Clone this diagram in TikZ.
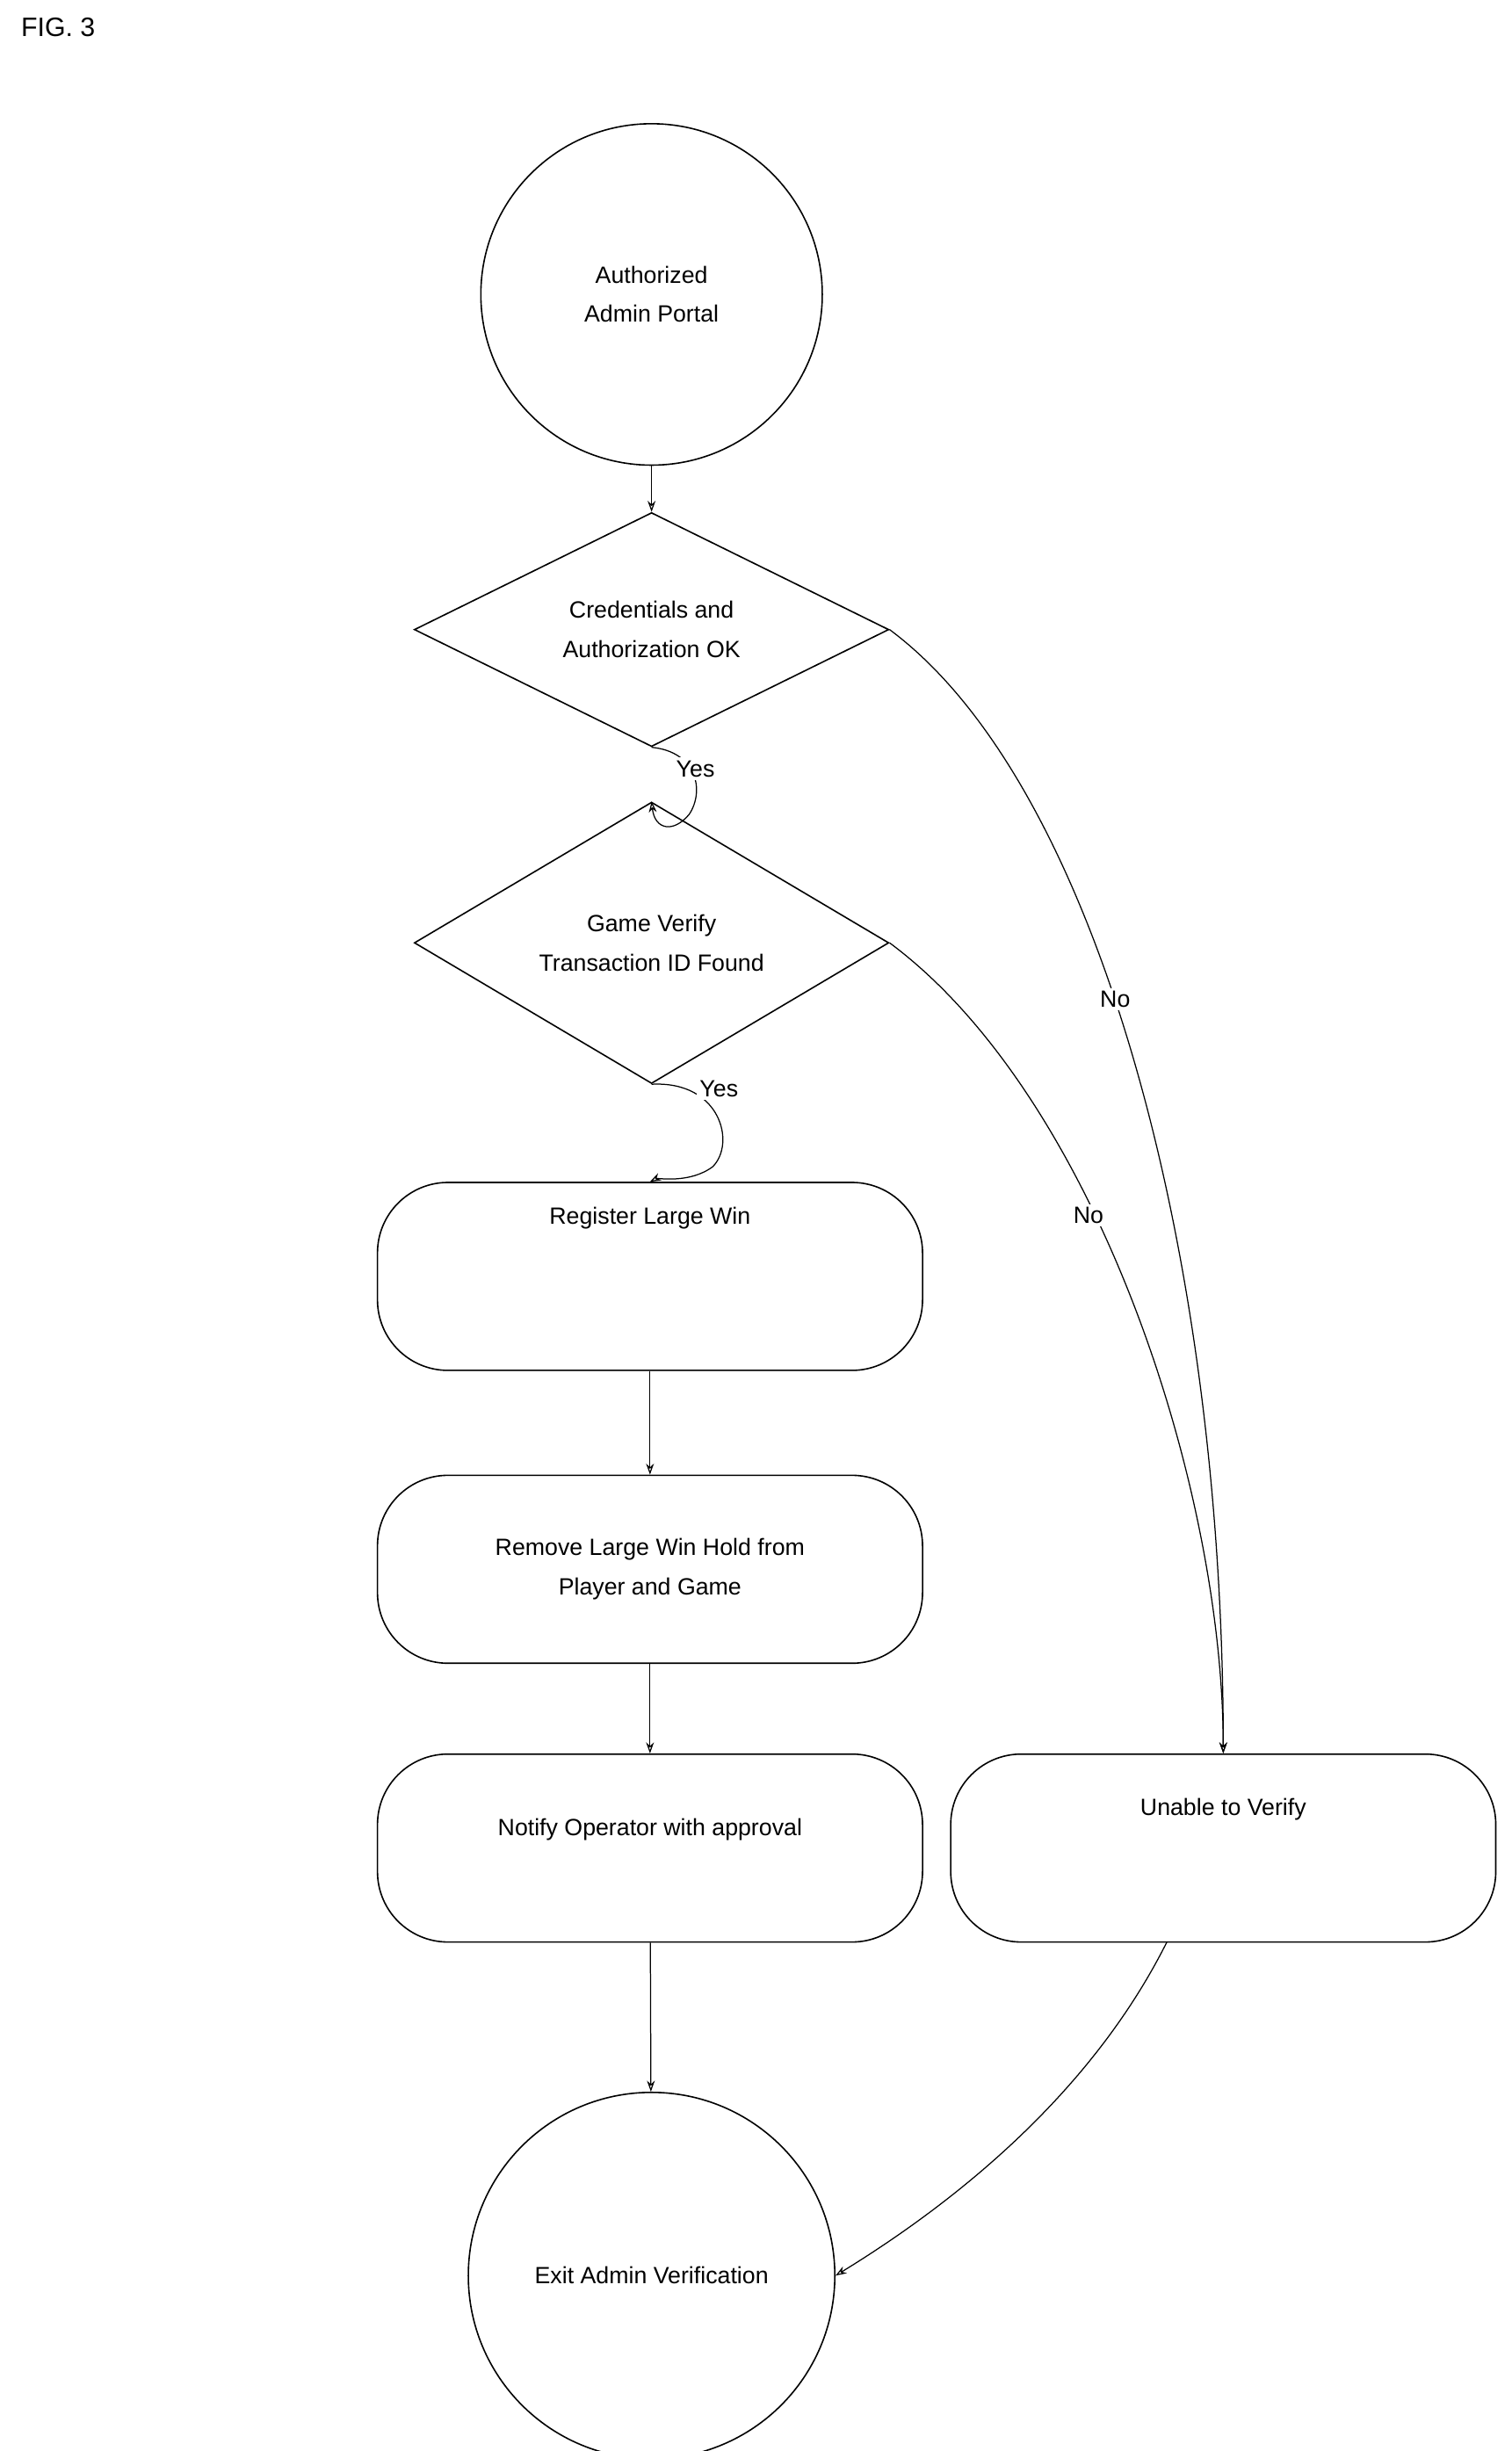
\documentclass[tikz,border=0pt]{standalone}
\usepackage{fontspec}
\setmainfont{Liberation Sans}
\usetikzlibrary{shapes.geometric,arrows.meta}
\begin{document}
\begin{tikzpicture}[x=1pt,y=-1pt,
  every node/.style={font=\fontsize{15}{25}\selectfont,align=center},
  circ/.style={draw,circle,line width=0.9pt,inner sep=0pt},
  dia/.style={draw,diamond,line width=0.9pt,inner sep=0pt,minimum width=303pt,minimum height=128pt},
  box/.style={draw,rounded corners=45pt,line width=0.9pt,minimum width=348pt,minimum height=120pt},
  arr/.style={line width=0.7pt,-{Stealth[length=7pt,width=5pt,open]}},
  lbl/.style={fill=white,inner sep=2pt}]
\useasboundingbox (0,0) rectangle (965,1565);
\node[anchor=north west,font=\fontsize{17}{20}\selectfont\rmfamily] (fig) at (10,8) {FIG. 3};
\node[circ,minimum size=218pt] (start) at (416,188) {Authorized\\Admin Portal};
\node[dia] (d1) at (416,402) {Credentials and\\Authorization OK};
\node[dia] (d2) at (416,602) {Game Verify\\Transaction ID Found};
\node[box] (r1) at (415,815) {};
\node (r1t) at (415,778) {Register Large Win};
\node[box] (r2) at (415,1002) {Remove Large Win Hold from\\Player and Game};
\node[box] (r3) at (415,1180) {};
\node (r3t) at (415,1168) {Notify Operator with approval};
\node[box] (r4) at (781,1180) {};
\node (r4t) at (781,1155) {Unable to Verify};
\node[circ,minimum size=234pt] (end) at (416,1453) {Exit Admin Verification};
\draw[arr] (start) -- (d1);
\draw[arr] (d1.south) .. controls (445,480) and (450,505) .. (440,520) .. controls (430,532) and (418,530) .. (d2.north);
\node[lbl] (y1) at (444,491) {Yes};
\draw[arr] (d2.south) .. controls (460,690) and (470,730) .. (455,745) .. controls (440,756) and (420,752) .. (r1.north);
\node[lbl] (y2) at (459,695) {Yes};
\draw[arr] (d1.east) .. controls (700,500) and (781,800) .. (r4.north);
\node[lbl] (n1) at (712,638) {No};
\draw[arr] (d2.east) .. controls (700,700) and (781,950) .. (r4.north);
\node[lbl] (n2) at (695,776) {No};
\draw[arr] (r1) -- (r2);
\draw[arr] (r2) -- (r3);
\draw[arr] (r3) -- (end);
\draw[arr] (745,1240) .. controls (700,1330) and (620,1400) .. (end.east);
\end{tikzpicture}
\end{document}
